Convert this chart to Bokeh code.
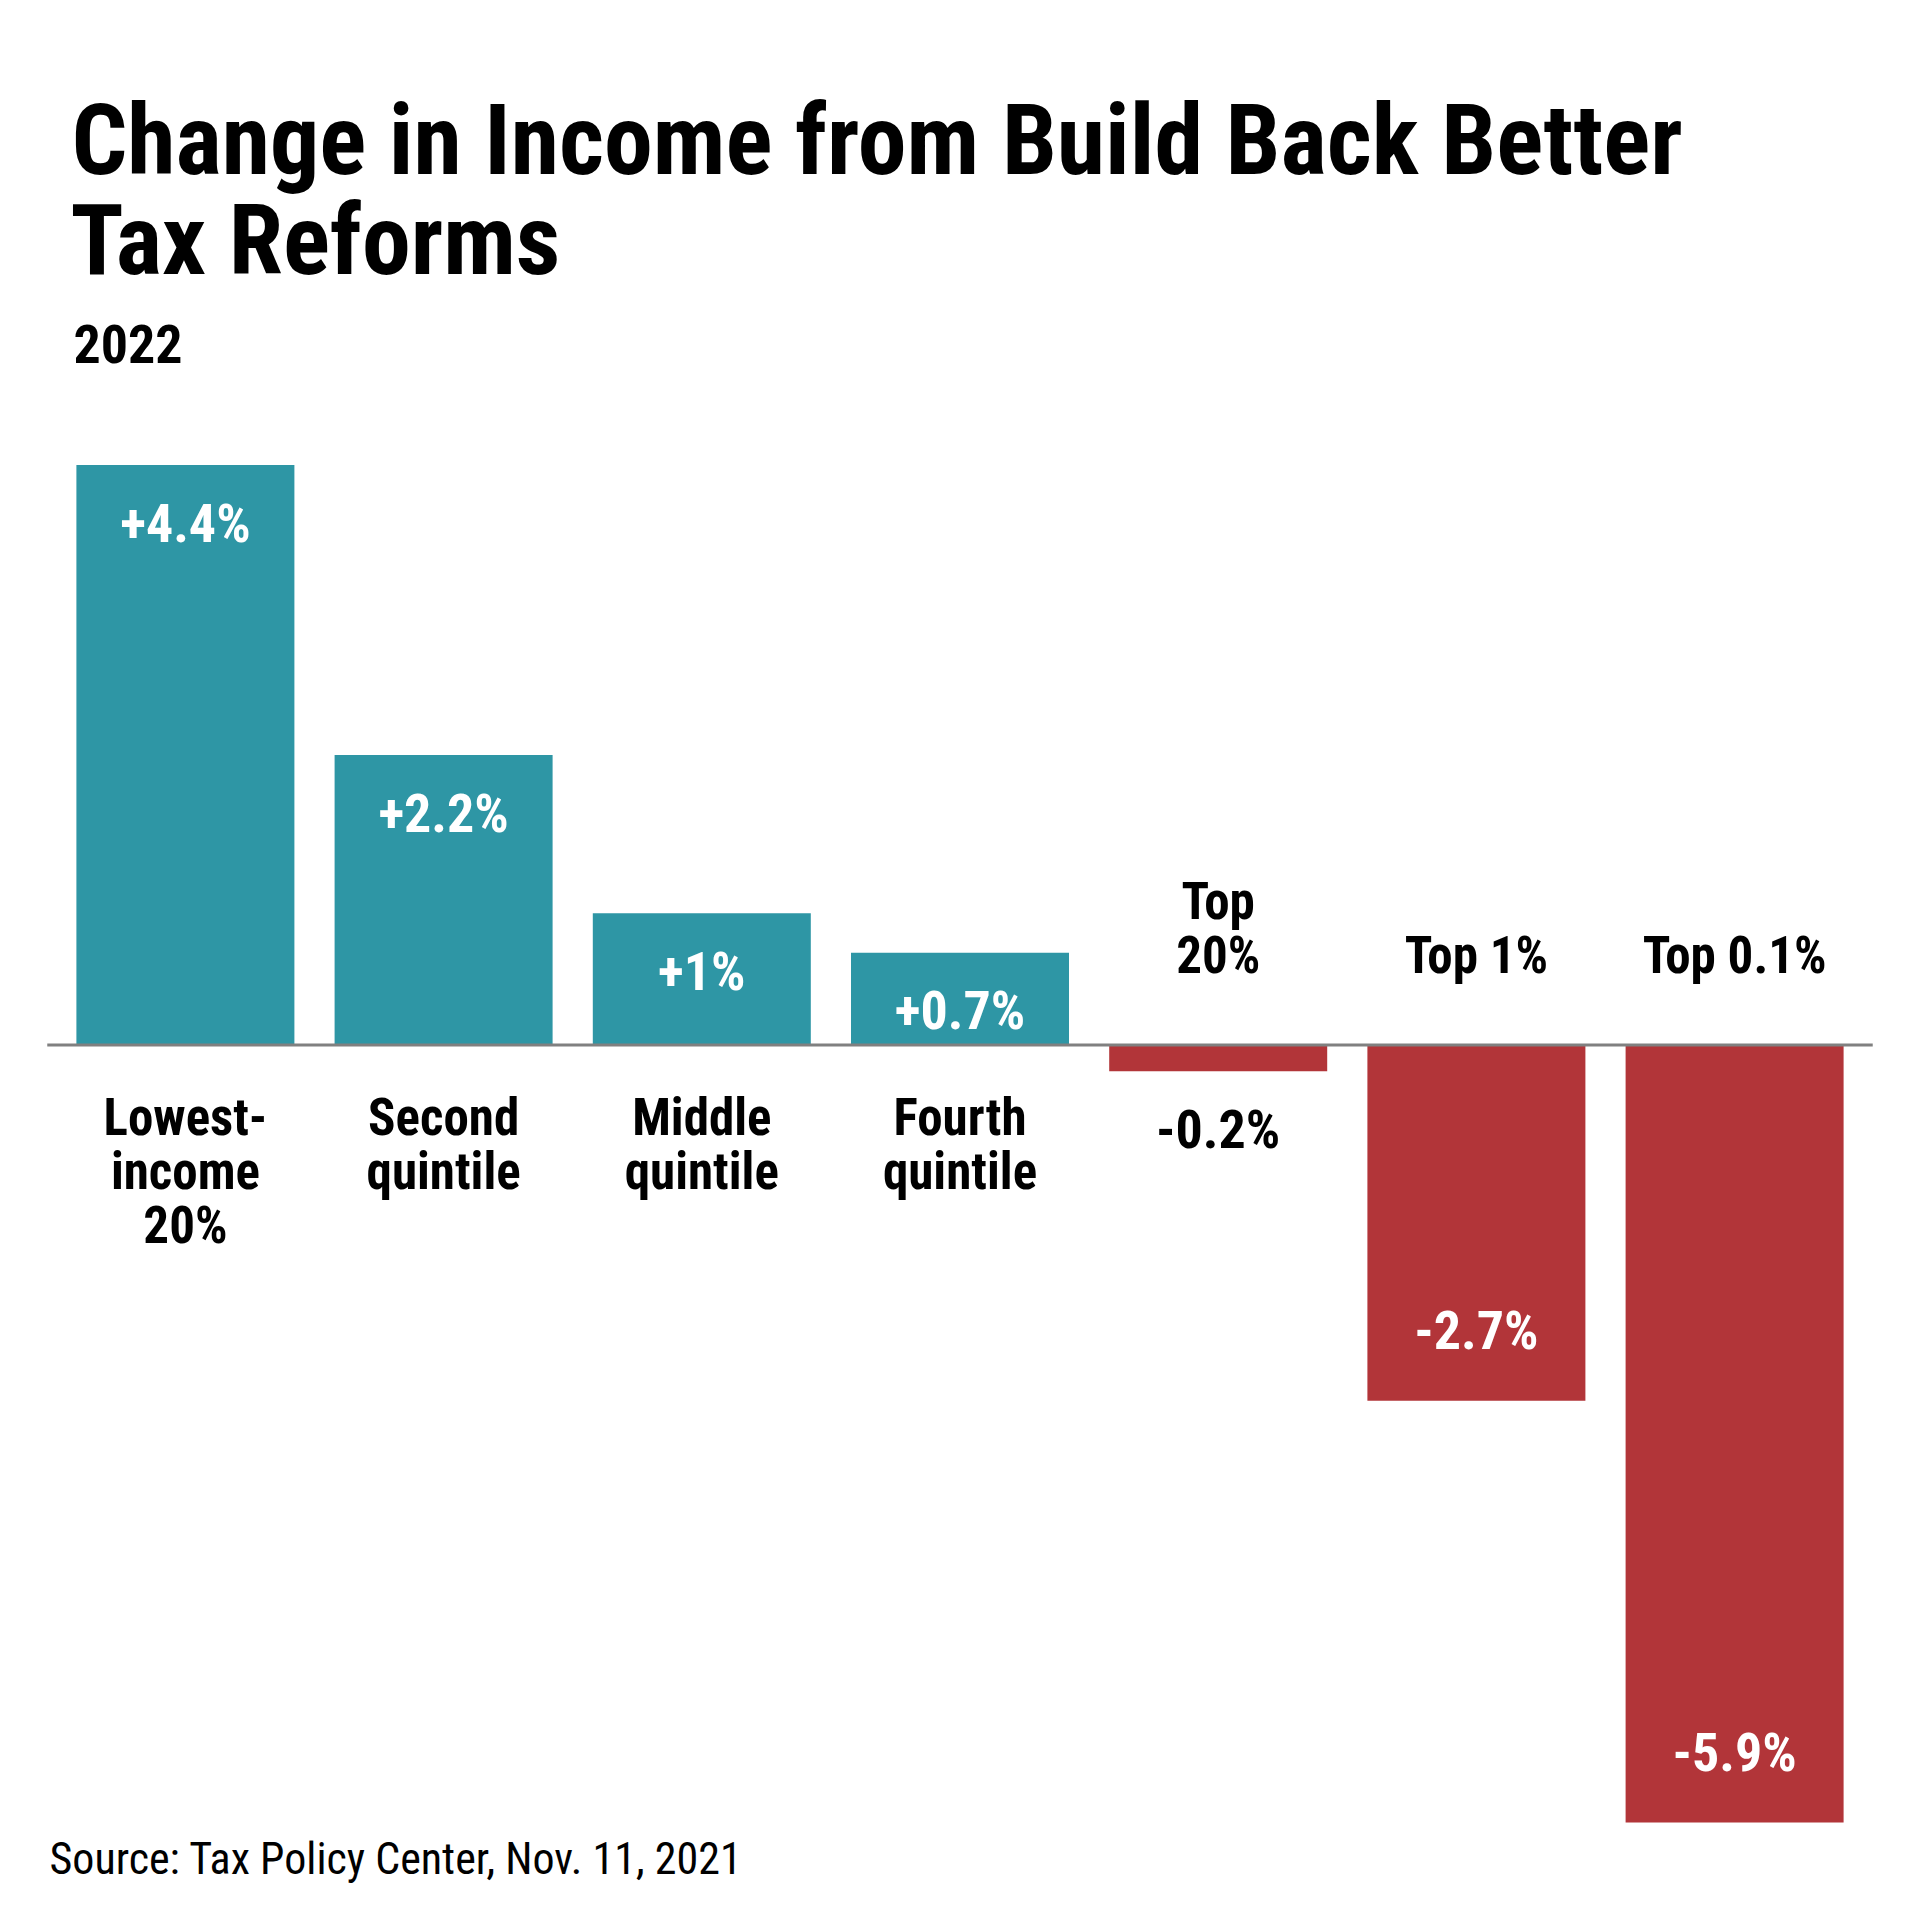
from bokeh.plotting import figure
from bokeh.models import Range1d, Label
from bokeh.core.properties import value
from bokeh.embed import file_html
from bokeh.resources import INLINE

# ---- data ----
category_lines = [["Lowest-", "income", "20%"], ["Second", "quintile"], ["Middle", "quintile"],
                  ["Fourth", "quintile"], ["Top", "20%"], ["Top 1%"], ["Top 0.1%"]]
values = [4.4, 2.2, 1.0, 0.7, -0.2, -2.7, -5.9]
value_labels = ["+4.4%", "+2.2%", "+1%", "+0.7%", "-0.2%", "-2.7%", "-5.9%"]
title_lines = ["Change in Income from Build Back Better", "Tax Reforms"]
subtitle = "2022"
source = "Source: Tax Policy Center, Nov. 11, 2021"

# ---- layout constants ----
W = H = 1904
PX_X = 258.2          # px per category
PX_Y = 131.8          # px per percentage point
X0 = 184.9            # px of first category centre
BASE = H - 1044.5     # px of zero line from bottom
FONT = "Roboto Condensed"
TEAL = "#2E96A5"
RED = "#B23539"

p = figure(width=W, height=H, output_backend="svg", toolbar_location=None,
           x_range=Range1d(-X0 / PX_X, (W - X0) / PX_X),
           y_range=Range1d(-BASE / PX_Y, (H - BASE) / PX_Y),
           min_border=0, outline_line_color=None)
p.axis.visible = False
p.grid.visible = False
p.background_fill_color = "white"
p.border_fill_color = "white"

idx = list(range(len(values)))
colors = [TEAL if v >= 0 else RED for v in values]
p.vbar(x=idx, top=values, bottom=0, width=218 / PX_X, color=colors, line_color=None)
p.segment(x0=[-0.535], y0=[0], x1=[len(values) - 1 + 0.535], y1=[0], line_color="#808080", line_width=3)

# value labels
vx, vy, vt, vc = [], [], [], []
for i, (v, t) in enumerate(zip(values, value_labels)):
    if v >= 0:
        y = v - 58 / PX_Y
        c = "white"
    elif abs(v) < 0.5:
        y = v - 58 / PX_Y
        c = "black"
    else:
        y = v + 70 / PX_Y
        c = "white"
    vx.append(i); vy.append(y); vt.append(t); vc.append(c)
p.text(x=vx, y=vy, text=vt, text_color=vc, text_align="center", text_baseline="middle",
       text_font=value(FONT), text_font_style="bold", text_font_size="54px")

# category labels
cx, cy, ct = [], [], []
for i, (v, lines) in enumerate(zip(values, category_lines)):
    n = len(lines)
    for j, ln in enumerate(lines):
        if v >= 0:
            off = -(72 + 54 * j)
        else:
            off = 90 + 54 * (n - 1 - j)
        cx.append(i); cy.append(off / PX_Y); ct.append(ln)
p.text(x=cx, y=cy, text=ct, text_color="black", text_align="center", text_baseline="middle",
       text_font=value(FONT), text_font_style="bold", text_font_size="51px")

# titles (baseline corrected for Bokeh's alphabetic placement)
p.add_layout(Label(x=71, y=H - 171 + 31, x_units="screen", y_units="screen", text=title_lines[0],
                   text_font=FONT, text_font_style="bold", text_font_size="98px",
                   text_baseline="alphabetic", text_color="black"))
p.add_layout(Label(x=70, y=H - 271 + 31, x_units="screen", y_units="screen", text=title_lines[1],
                   text_font=FONT, text_font_style="bold", text_font_size="98px",
                   text_baseline="alphabetic", text_color="black"))
p.add_layout(Label(x=73, y=H - 361 + 18, x_units="screen", y_units="screen", text=subtitle,
                   text_font=FONT, text_font_style="bold", text_font_size="54px",
                   text_baseline="alphabetic", text_color="black"))
p.add_layout(Label(x=49, y=H - 1871 + 13, x_units="screen", y_units="screen", text=source,
                   text_font=FONT, text_font_size="44px",
                   text_baseline="alphabetic", text_color="black"))

open("out.html", "w").write(file_html(p, INLINE))
